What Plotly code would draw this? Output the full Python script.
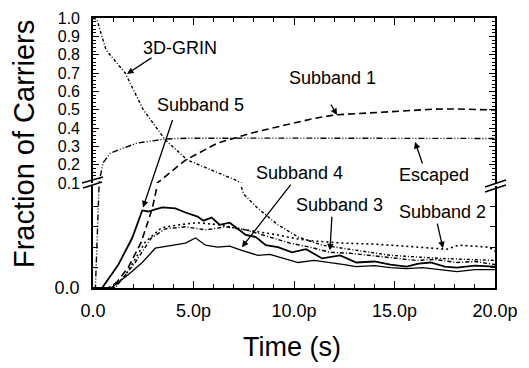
import plotly.graph_objects as go

# ---------------- data ----------------
t_grin = [0, 0.2, 0.65, 1.0, 1.6, 2.5, 3.0, 3.6, 4.7, 5.9, 7.1, 7.5, 8.2, 9.2, 10.2, 11.4, 13.1, 14.8, 17.3, 20]
v_grin = [1.0, 0.99, 0.825, 0.78, 0.70, 0.50, 0.425, 0.335, 0.225, 0.171, 0.116, 0.092, 0.078, 0.062, 0.050, 0.042, 0.037, 0.032, 0.029, 0.027]

t_esc = [0, 0.12, 0.3, 0.5, 0.85, 1.25, 2.2, 3.6, 4.6, 6, 8, 10, 12, 14, 16, 18, 20]
v_esc = [0, 0, 0.1, 0.21, 0.262, 0.28, 0.318, 0.340, 0.344, 0.345, 0.345, 0.345, 0.344, 0.344, 0.343, 0.343, 0.343]

t_s1 = [0, 0.75, 1.2, 1.75, 2.4, 2.95, 3.3, 3.75, 4.6, 6.2, 7.9, 9.55, 11.0, 12.0, 14.5, 16.0, 17.0, 18.0, 20]
v_s1 = [0, 0, 0.006, 0.02, 0.045, 0.078, 0.11, 0.15, 0.225, 0.318, 0.373, 0.416, 0.452, 0.471, 0.487, 0.498, 0.503, 0.504, 0.498]

t_s2 = [0, 1.0, 1.6, 2.6, 3.4, 4.3, 5.2, 6.3, 7.6, 9.2, 10.2, 11.0, 12.5, 14.0, 15.5, 17.0, 17.6, 18.2, 19.0, 19.7, 20]
v_s2 = [0, 0, 0.012, 0.045, 0.059, 0.062, 0.064, 0.062, 0.057, 0.052, 0.048, 0.046, 0.044, 0.043, 0.041, 0.039, 0.038, 0.042, 0.041, 0.040, 0.036]

t_s3 = [0, 1.1, 2.1, 2.9, 3.6, 4.6, 5.6, 6.6, 7.6, 8.9, 9.8, 10.8, 11.8, 12.8, 13.8, 15.0, 16.1, 17.0, 18.1, 19.0, 20]
v_s3 = [0, 0, 0.025, 0.049, 0.058, 0.060, 0.057, 0.060, 0.057, 0.049, 0.044, 0.040, 0.035, 0.034, 0.032, 0.029, 0.027, 0.028, 0.025, 0.026, 0.023]

t_s4 = [0, 0.9, 1.75, 2.45, 3.1, 3.7, 4.6, 5.1, 5.6, 6.2, 6.8, 7.4, 8.2, 8.8, 9.5, 10.2, 11.0, 11.8, 12.5, 13.1, 14.0, 14.8, 15.6, 16.4, 17.2, 18.1, 19.0, 20]
v_s4 = [0, 0, 0.013, 0.025, 0.039, 0.041, 0.044, 0.049, 0.042, 0.040, 0.041, 0.037, 0.032, 0.033, 0.029, 0.025, 0.027, 0.025, 0.023, 0.021, 0.022, 0.020, 0.019, 0.020, 0.018, 0.016, 0.018, 0.018]

t_s5 = [0, 0.45, 1.25, 1.95, 2.45, 2.75, 3.1, 3.45, 4.1, 4.6, 5.2, 5.5, 5.9, 6.3, 6.8, 7.2, 7.6, 8.1, 8.6, 9.2, 9.9, 10.6, 11.4, 12.3, 13.1, 14.0, 14.8, 15.6, 16.2, 16.8, 17.5, 18.1, 19.0, 20]
v_s5 = [0, 0, 0.0225, 0.049, 0.076, 0.075, 0.077, 0.079, 0.078, 0.074, 0.070, 0.066, 0.069, 0.062, 0.064, 0.058, 0.052, 0.050, 0.042, 0.040, 0.035, 0.038, 0.029, 0.032, 0.025, 0.026, 0.023, 0.021, 0.024, 0.025, 0.021, 0.020, 0.022, 0.021]

x_tickvals = [0, 5, 10, 15, 20]
x_ticktext = ["0.0", "5.0p", "10.0p", "15.0p", "20.0p"]
x_minor = list(range(0, 21))
y_up_tickvals = [0.1, 0.2, 0.3, 0.4, 0.5, 0.6, 0.7, 0.8, 0.9, 1.0]
y_up_ticktext = ["0.1", "0.2", "0.3", "0.4", "0.5", "0.6", "0.7", "0.8", "0.9", "1.0"]
y_up_minor = [round(0.1 + 0.02 * i, 2) for i in range(46)]
y_lo_tickvals = [0, 0.02, 0.04, 0.06, 0.08]
y_lo_ticktext = ["0.0", "", "", "", ""]

# ---------------- styling ----------------
FONT = "Arial, Liberation Sans, Helvetica, sans-serif"
series = [
    (t_grin, v_grin, "3px,2px,1px,2px", 1.4),
    (t_esc, v_esc, "6px,2px,1px,2px,1px,2px", 1.4),
    (t_s1, v_s1, "7px,4px", 1.6),
    (t_s2, v_s2, "2px,3px", 1.6),
    (t_s3, v_s3, "4px,2px,1px,2px", 1.4),
    (t_s4, v_s4, "solid", 1.3),
    (t_s5, v_s5, "solid", 1.8),
]

fig = go.Figure()
for t, v, dash, w in series:
    for xa, ya in (("x", "y"), ("x2", "y2")):
        fig.add_trace(go.Scatter(x=t, y=v, mode="lines", xaxis=xa, yaxis=ya,
                                 line=dict(color="black", width=w, dash=dash),
                                 showlegend=False, hoverinfo="skip"))

W, H = 529, 368
ML, MR, MT, MB = 93, 34, 18, 80
pw, ph = W - ML - MR, H - MT - MB
lo_top = 102 / ph
up_bot = 105 / ph

common = dict(showline=True, linecolor="black", linewidth=1.6, showgrid=False,
              zeroline=False, ticks="inside", tickcolor="black", tickwidth=1.2,
              automargin=False)

fig.update_layout(
    template="none",
    width=W, height=H, margin=dict(l=ML, r=MR, t=MT, b=MB, autoexpand=False),
    paper_bgcolor="white", plot_bgcolor="white",
    font=dict(family=FONT, color="black"),
    xaxis=dict(domain=[0, 1], range=[0, 20], anchor="y", side="bottom",
               tickmode="array", tickvals=x_tickvals, ticktext=x_ticktext,
               ticklen=7, tickfont=dict(size=18), ticklabelstandoff=6,
               minor=dict(tickmode="array", tickvals=x_minor, ticks="inside",
                          ticklen=4, tickcolor="black", tickwidth=1.2), **common),
    xaxis2=dict(domain=[0, 1], range=[0, 20], anchor="y2", side="top", matches="x",
                showticklabels=False, tickmode="array", tickvals=x_tickvals, ticklen=7,
                minor=dict(tickmode="array", tickvals=x_minor, ticks="inside",
                           ticklen=4, tickcolor="black", tickwidth=1.2), **common),
    yaxis=dict(domain=[0, lo_top], range=[0, 0.1], anchor="x", mirror="ticks",
               tickmode="array", tickvals=y_lo_tickvals, ticktext=y_lo_ticktext,
               ticklen=5, tickfont=dict(size=18), ticklabelstandoff=8, **common),
    yaxis2=dict(domain=[up_bot, 1], range=[0.1, 1.0], anchor="x2", mirror="ticks",
                tickmode="array", tickvals=y_up_tickvals, ticktext=y_up_ticktext,
                ticklen=6, tickfont=dict(size=16), ticklabelstandoff=8,
                minor=dict(tickmode="array", tickvals=y_up_minor, ticks="inside",
                           ticklen=3, tickcolor="black", tickwidth=1), **common),
)

# axis titles
fig.add_annotation(text="Fraction of Carriers", xref="paper", yref="paper",
                   x=(24 - ML) / pw, y=(288 - 144) / ph, textangle=-90,
                   showarrow=False, font=dict(size=29), xanchor="center", yanchor="middle")
fig.add_annotation(text="Time (s)", xref="paper", yref="paper",
                   x=(292 - ML) / pw, y=(288 - 347) / ph,
                   showarrow=False, font=dict(size=27), xanchor="center", yanchor="middle")

# labels with arrows: (text, text x, text y, text yref, tip x, tip y, tip yref, arrow start offset px)
labels = [
    ("3D-GRIN", 4.33, 0.836, "y2", 1.69, 0.695, "y2", (26, -17)),
    ("Subband 1", 11.94, 0.673, "y2", 12.14, 0.471, "y2", (-7, -12)),
    ("Subband 5", 5.37, 0.525, "y2", 2.49, 0.079, "y", (30, -89)),
    ("Subband 4", 10.25, 0.155, "y2", 7.41, 0.040, "y", (50, -64)),
    ("Escaped", 16.97, 0.144, "y2", 16.02, 0.324, "y2", (8, 23)),
    ("Subband 3", 12.24, 0.081, "y", 11.79, 0.037, "y", (2, -35)),
    ("Subband 2", 17.41, 0.0745, "y", 17.41, 0.039, "y", (-6, -26)),
]
for txt, tx, ty, tyref, ax_, ay_, ayref, (ox, oy) in labels:
    xr = "x2" if tyref == "y2" else "x"
    fig.add_annotation(text=txt, x=tx, y=ty, xref=xr, yref=tyref, showarrow=False,
                       font=dict(size=18), xanchor="center", yanchor="middle")
    xr2 = "x2" if ayref == "y2" else "x"
    fig.add_annotation(text="", x=ax_, y=ay_, xref=xr2, yref=ayref, showarrow=True,
                       ax=ox, ay=oy, arrowhead=2, arrowsize=1, arrowwidth=1.3,
                       arrowcolor="black", standoff=0, startstandoff=0)

# axis break marks
def px2paper(px, py):
    return (px - ML) / pw, (288 - py) / ph

breaks = [((82, 183), (103, 177)), ((83, 188), (102, 182)),
          ((485, 187), (506, 180)), ((485, 192), (506, 185))]
for (p0, p1) in breaks:
    x0, y0 = px2paper(*p0)
    x1, y1 = px2paper(*p1)
    fig.add_shape(type="line", xref="paper", yref="paper", x0=x0, y0=y0, x1=x1, y1=y1,
                  line=dict(color="black", width=1.5))

fig.write_html("out.html", config={"displayModeBar": False},
               post_script="document.body.style.margin='0px';")
